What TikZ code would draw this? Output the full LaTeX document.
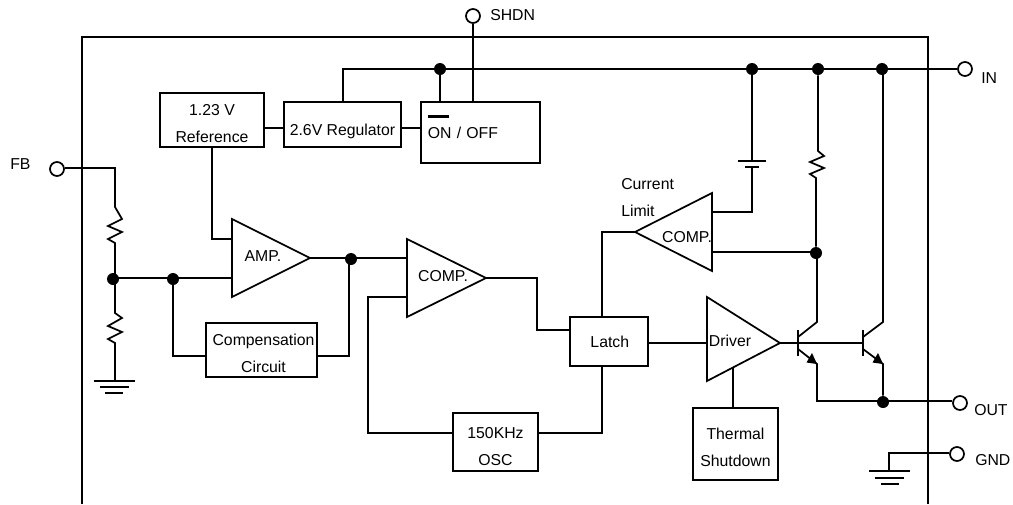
\documentclass[tikz,border=0pt]{standalone}
\usepackage{fontspec}
\setmainfont{Liberation Sans}
\newcommand{\lowerby}[1]{\rule{0pt}{#1}}
\begin{document}
\begin{tikzpicture}[x=0.75pt,y=-0.75pt,line join=miter,
  wire/.style={draw=black,line width=1.3pt},
  box/.style={draw=black,line width=1.3pt,inner sep=0pt,align=center,font=\fontsize{11.85}{20.25}\selectfont},
  label/.style={inner sep=0pt,align=left,font=\fontsize{11.85}{20.25}\selectfont},
  pin/.style={circle,draw=black,fill=white,line width=1.3pt,inner sep=0pt,minimum size=10.5pt},
  dot/.style={circle,fill=black,inner sep=0pt,minimum size=9pt}]
\useasboundingbox (0,0) rectangle (1013,504);
% frame
\coordinate (fa) at (82,504); \coordinate (fb) at (82,37);
\coordinate (fc) at (928,37); \coordinate (fd) at (928,504);
\draw[wire] (fa) -- (fb) -- (fc) -- (fd);
% boxes
\node[box,minimum width=78pt,minimum height=40.5pt] (ref) at (212,120) {\lowerby{14pt}1.23 V\\Reference};
\node[box,minimum width=87.75pt,minimum height=33.75pt] (reg) at (342.5,124.5) {\lowerby{19pt}2.6V Regulator};
\node[box,minimum width=89.25pt,minimum height=45.75pt,align=left,text width=79pt,inner xsep=5pt] (onoff) at (480.5,132.5)
  {\rlap{\smash{\raisebox{15.4pt}{\rule{15.5pt}{1.6pt}}}}ON / OFF};
\node[box,minimum width=83.25pt,minimum height=40.5pt] (comp) at (261.5,350) {\lowerby{13pt}\kern3pt Compensation\\\kern3pt Circuit};
\node[box,minimum width=63.75pt,minimum height=43.5pt] (osc) at (495.5,442) {\lowerby{14.5pt}150KHz\\OSC};
\node[box,minimum width=58.5pt,minimum height=36.75pt] (latch) at (609,341.5) {\kern1.2pt Latch};
\node[box,minimum width=63.75pt,minimum height=54pt] (therm) at (735.5,444) {\lowerby{13pt}Thermal\\Shutdown};
% terminals
\node[pin] (shdn) at (473,16) {};
\node[pin] (fbp) at (57,169) {};
\node[pin] (inp) at (965,69) {};
\node[pin] (outp) at (960,403) {};
\node[pin] (gndp) at (957,454) {};
\node[label,anchor=west] (lshdn) at (490,15) {SHDN};
\node[label,anchor=west] (lfb) at (10,164) {FB};
\node[label,anchor=west] (lin) at (981,78) {IN};
\node[label,anchor=west] (lout) at (974,410) {OUT};
\node[label,anchor=west] (lgnd) at (975,460) {GND};
\node[label,anchor=west] (lcur) at (621,184) {Current};
\node[label,anchor=west] (llim) at (621,211) {Limit};
% triangles
\coordinate (ampa) at (232,219); \coordinate (ampb) at (232,297); \coordinate (ampo) at (310,258);
\draw[wire] (ampa) -- (ampo) -- (ampb) -- cycle;
\node[label] (lamp) at (263,256) {AMP.};
\coordinate (cmpa) at (407,239); \coordinate (cmpb) at (407,317); \coordinate (cmpo) at (486,278);
\draw[wire] (cmpa) -- (cmpo) -- (cmpb) -- cycle;
\node[label] (lcmp) at (443,276) {COMP.};
\coordinate (lima) at (712,193); \coordinate (limb) at (712,271); \coordinate (limo) at (635,232);
\draw[wire] (lima) -- (limo) -- (limb) -- cycle;
\node[label] (llimc) at (687,237) {COMP.};
\coordinate (drva) at (707,297); \coordinate (drvb) at (707,381); \coordinate (drvo) at (780,343);
\draw[wire] (drva) -- (drvo) -- (drvb) -- cycle;
\node[label] (ldrv) at (730,341) {Driver};
% junctions
\node[dot] (d1) at (440,69) {};
\node[dot] (d2) at (752,69) {};
\node[dot] (d3) at (818,69) {};
\node[dot] (d4) at (882,69) {};
\node[dot] (d5) at (113,279) {};
\node[dot] (d6) at (173,279) {};
\node[dot] (d7) at (351,259) {};
\node[dot] (d8) at (816,253) {};
\node[dot] (d9) at (883,402) {};
% rail and top
\coordinate (railL) at (343,69);
\draw[wire] (reg.north -| railL) -- (railL) -- (inp.west);
\draw[wire] (d1) -- (onoff.north -| d1);
\draw[wire] (shdn.south) -- (onoff.north -| shdn);
\draw[wire] (ref.east |- 0,128) -- (reg.west |- 0,128);
\draw[wire] (reg.east |- 0,128) -- (onoff.west |- 0,128);
\coordinate (refc) at (212,239);
\draw[wire] (ref.south) -- (refc) -- (ampa |- refc);
% FB divider
\coordinate (fbt) at (115,168);
\coordinate (r1t) at (115,207); \coordinate (r1b) at (115,243);
\coordinate (r2t) at (115,313); \coordinate (r2b) at (115,343);
\coordinate (g1) at (115,381);
\draw[wire] (fbp.east |- fbt) -- (fbt) -- (r1t) -- (122,219) -- (108,226) -- (122,232) -- (108,239) -- (r1b) -- (r1b |- d5);
\draw[wire] (r2t |- d5) -- (r2t) -- (122,318) -- (108,326) -- (122,332) -- (108,339) -- (r2b) -- (g1);
\coordinate (g1aL) at (94,381); \coordinate (g1aR) at (135,381);
\coordinate (g1bL) at (100,387); \coordinate (g1bR) at (129,387);
\coordinate (g1cL) at (105,393); \coordinate (g1cR) at (123,393);
\draw[wire] (g1aL) -- (g1aR) (g1bL) -- (g1bR) (g1cL) -- (g1cR);
% amp
\draw[wire] (d5 |- 0,278) -- (ampa |- 0,278);
\coordinate (c1) at (173,356); \coordinate (c2) at (349,356);
\draw[wire] (d6) -- (c1) -- (comp.west |- c1);
\draw[wire] (comp.east |- c2) -- (c2) -- (c2 |- d7);
\draw[wire] (ampo) -- (cmpa |- ampo);
% comp
\coordinate (p1) at (368,297); \coordinate (p2) at (368,433);
\draw[wire] (cmpb |- p1) -- (p1) -- (p2) -- (osc.west |- p2);
\coordinate (o1) at (537,278); \coordinate (o2) at (537,330);
\draw[wire] (cmpo) -- (o1) -- (o2) -- (latch.west |- o2);
\coordinate (o3) at (602,433);
\draw[wire] (osc.east |- o3) -- (o3) -- (latch.south -| o3);
\coordinate (o4) at (602,232);
\draw[wire] (latch.north -| o4) -- (o4) -- (limo);
\draw[wire] (latch.east |- drvo) -- (drvb |- drvo);
\coordinate (t1) at (733,368);
\draw[wire] (t1) -- (therm.north -| t1);
% current limit
\coordinate (b1) at (752,161); \coordinate (b2) at (752,167); \coordinate (b3) at (752,212);
\draw[wire] (d2) -- (b1);
\draw[wire] (b2) -- (b3) -- (lima |- b3);
\coordinate (bpa) at (738,161); \coordinate (bpb) at (766,161);
\coordinate (bpc) at (745,167); \coordinate (bpd) at (759,167);
\draw[wire] (bpa) -- (bpb) (bpc) -- (bpd);
\draw[wire] (lima |- 0,252) -- (d8 |- 0,252);
\coordinate (r3t) at (818,151); \coordinate (r3b) at (816,178);
\draw[wire] (d3) -- (r3t) -- (824,156) -- (810,162) -- (824,168) -- (810,174) -- (r3b) -- (d8);
% transistors
\coordinate (q1b) at (798,343); \coordinate (q1t) at (798,330); \coordinate (q1d) at (798,356);
\coordinate (q1c) at (817,322); \coordinate (q1e) at (817,364);
\coordinate (q2b) at (863,343); \coordinate (q2t) at (863,330); \coordinate (q2d) at (863,356);
\coordinate (q2c) at (883,322); \coordinate (q2e) at (883,364);
\draw[wire] (drvo) -- (q2b);
\draw[wire] (q1t) -- (q1d) (q2t) -- (q2d);
\draw[wire] (d8 -| q1c) -- (q1c) -- (798,337);
\draw[wire] (d4 -| q2c) -- (q2c) -- (863,337);
\coordinate (q1o) at (817,401);
\draw[wire] (798,349) -- (q1e) -- (q1o) -- (q1o -| d9);
\draw[wire] (863,349) -- (q2e) -- (d9);
\fill (q1e) -- (806.5,362.5) -- (812,353) -- cycle;
\fill (q2e) -- (872.5,362.5) -- (878,353) -- cycle;
\draw[wire] (q1o -| d9) -- (q1o -| outp.west);
% GND
\coordinate (g2) at (889,453); \coordinate (g3) at (889,471);
\draw[wire] (g2 -| gndp.west) -- (g2) -- (g3);
\coordinate (g2aL) at (869,471); \coordinate (g2aR) at (910,471);
\coordinate (g2bL) at (875,478); \coordinate (g2bR) at (904,478);
\coordinate (g2cL) at (881,484); \coordinate (g2cR) at (899,484);
\draw[wire] (g2aL) -- (g2aR) (g2bL) -- (g2bR) (g2cL) -- (g2cR);
\end{tikzpicture}
\end{document}
